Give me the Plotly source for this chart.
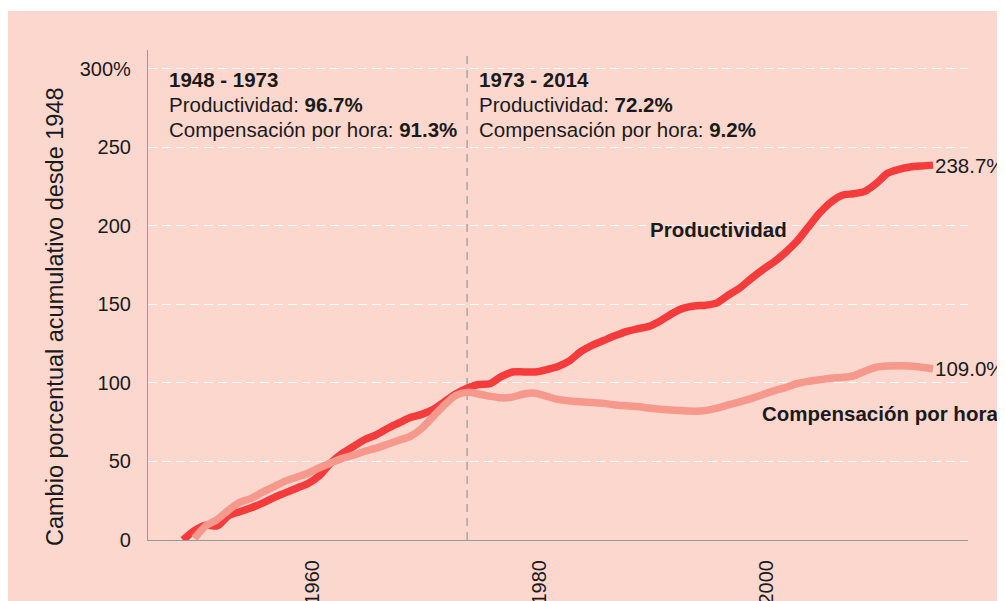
import plotly.graph_objects as go

# ---- data ----
years_prod = list(range(1948, 2015))
productividad = [0, 6, 9.5, 9, 15.5, 18, 20.5, 23.5, 27, 30, 33, 36, 41, 49, 55, 59.5, 64, 67, 71, 74.5,
                 78, 80, 83, 88, 93, 96.7, 99, 99.5, 104, 107, 107, 107, 108.5, 110.5, 114, 120, 124,
                 127, 130, 132.7, 134.5, 136, 139.5, 144, 147.5, 149, 149.5, 151, 156, 160.5, 166.5,
                 172, 177, 183, 190, 199, 208, 215, 219.5, 220.5, 222, 227, 233.5, 236, 237.5, 238.2, 238.7]

years_comp = list(range(1949, 2015))
compensacion = [1, 9, 13, 19, 24, 26.5, 30.5, 34, 37.5, 40, 42.5, 46, 49, 52, 54, 56.5, 58.5, 61, 63.5,
                66, 71, 78.5, 86, 92, 94, 93, 91.5, 90.5, 91, 93, 93.5, 91.5, 89.5, 88.5, 88, 87.5, 87,
                86, 85.5, 85, 84, 83.2, 82.8, 82.3, 82, 82.5, 84, 86, 88, 90, 92.5, 95, 97, 99.5, 101,
                102, 103, 103.5, 104.5, 107.5, 110, 110.8, 111, 110.8, 110, 109.0]

y_tickvals = [0, 50, 100, 150, 200, 250, 300]
y_ticktext = ["0", "50", "100", "150", "200", "250", "300%"]
x_tickvals = [1960, 1980, 2000]
x_ticktext = ["1960", "1980", "2000"]
split_year = 1973
period1 = ("1948 - 1973", "96.7%", "91.3%")
period2 = ("1973 - 2014", "72.2%", "9.2%")
end_prod_label = "238.7%"
end_comp_label = "109.0%"

BG = "#fbd7ce"
RED = "#f63b3d"
SALMON = "#f7988c"
TXT = "#1a1a1a"
FONT = "Liberation Sans, Arial, sans-serif"

fig = go.Figure()
fig.add_trace(go.Scatter(x=years_prod, y=productividad, mode="lines",
                         line=dict(color=RED, width=7.5, shape="spline", smoothing=0.8),
                         hoverinfo="skip", showlegend=False))
fig.add_trace(go.Scatter(x=years_comp, y=compensacion, mode="lines",
                         line=dict(color=SALMON, width=7.5, shape="spline", smoothing=0.8),
                         hoverinfo="skip", showlegend=False))

# page has an 8px body offset; layout numbers below are in screen pixels
OFF = 8
PL, PR, PT, PB = 148, 968, 50, 540          # plot area on screen
W, H = 1005 - OFF, 601 - OFF
L, T = PL - OFF, PT - OFF
pw, ph = PR - PL, PB - PT
R, B = W - L - pw, H - T - ph

def px(xs):
    return (xs - PL) / pw
def py(ys):
    return (PB - ys) / ph

fig.add_shape(type="rect", xref="paper", yref="paper", x0=px(OFF), x1=px(1020), y0=py(620), y1=py(11),
              fillcolor=BG, line=dict(width=0), layer="below")
fig.add_shape(type="line", xref="x", yref="paper", x0=split_year, x1=split_year, y0=0, y1=1,
              line=dict(color="#999999", width=1.2, dash="8px,6px"), layer="below")

FS = 20.5
annotations = []
for xpix, (title, p, c) in [(167, period1), (477, period2)]:
    annotations.append(dict(x=px(xpix), y=py(80), xref="paper", yref="paper", xanchor="left", yanchor="middle",
                            text=f"<b>{title}</b>", showarrow=False, font=dict(size=FS, color=TXT, family=FONT)))
    annotations.append(dict(x=px(xpix), y=py(104), xref="paper", yref="paper", xanchor="left", yanchor="middle",
                            text=f"Productividad: <b>{p}</b>", showarrow=False, font=dict(size=FS, color=TXT, family=FONT)))
    annotations.append(dict(x=px(xpix), y=py(129), xref="paper", yref="paper", xanchor="left", yanchor="middle",
                            text=f"Compensación por hora: <b>{c}</b>", showarrow=False, font=dict(size=FS, color=TXT, family=FONT)))

annotations.append(dict(x=years_prod[-1], y=productividad[-1], xref="x", yref="y", xanchor="left", yanchor="middle",
                        xshift=0, text=end_prod_label, showarrow=False, font=dict(size=FS, color=TXT, family=FONT)))
annotations.append(dict(x=years_comp[-1], y=compensacion[-1], xref="x", yref="y", xanchor="left", yanchor="middle",
                        xshift=0, text=end_comp_label, showarrow=False, font=dict(size=FS, color=TXT, family=FONT)))
annotations.append(dict(x=px(718), y=py(230), xref="paper", yref="paper", xanchor="center", yanchor="middle",
                        text="<b>Productividad</b>", showarrow=False, font=dict(size=FS, color=TXT, family=FONT)))
annotations.append(dict(x=px(880), y=py(413), xref="paper", yref="paper", xanchor="center", yanchor="middle",
                        text="<b>Compensación por hora</b>", showarrow=False, font=dict(size=FS, color=TXT, family=FONT)))
annotations.append(dict(x=px(55), y=py(317), xref="paper", yref="paper", xanchor="center", yanchor="middle",
                        textangle=-90, text="Cambio porcentual acumulativo desde 1948", showarrow=False,
                        font=dict(size=23.5, color=TXT, family=FONT)))

x0 = 1948 - (183 - PL) / 11.36
x1 = 2014 + (PR - 933) / 11.36

fig.update_layout(
    width=W, height=H,
    margin=dict(l=L, r=R, t=T, b=B, autoexpand=False),
    paper_bgcolor="white",
    plot_bgcolor="rgba(0,0,0,0)",
    annotations=annotations,
    xaxis=dict(range=[x0, x1], tickvals=x_tickvals, ticktext=x_ticktext, tickangle=-90,
               showgrid=False, zeroline=False, showline=True, linecolor="#999999", linewidth=1.2,
               ticks="", ticklabelstandoff=11, ticklabelshift=-7, automargin=False,
               tickfont=dict(size=20, color=TXT, family=FONT)),
    yaxis=dict(range=[0, 312], tickvals=y_tickvals, ticktext=y_ticktext,
               showgrid=True, gridcolor="white", griddash="9px,5px", gridwidth=1.2,
               zeroline=False, showline=True, linecolor="#999999", linewidth=1.2,
               ticks="", ticklabelstandoff=12, automargin=False,
               tickfont=dict(size=20, color=TXT, family=FONT)),
)

fig.write_html("out.html")
